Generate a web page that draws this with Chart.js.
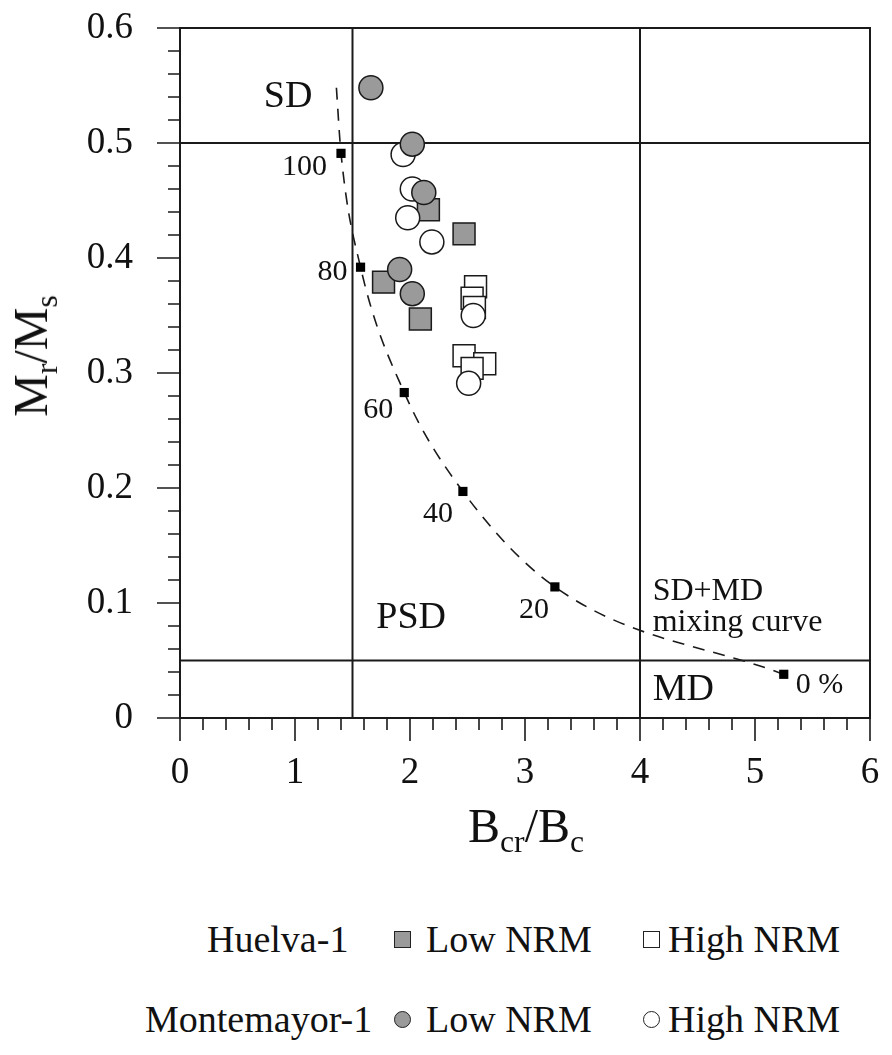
<!DOCTYPE html>
<html>
<head>
<meta charset="utf-8">
<title>Day plot</title>
<script src="https://cdn.jsdelivr.net/npm/chart.js@4.4.1/dist/chart.umd.min.js"></script>
<style>
  html, body { margin: 0; padding: 0; background: #fff; }
  #wrap { position: relative; width: 892px; height: 1055px; font-family: "Liberation Serif", "Times New Roman", serif; color: #111; }
  #chart { position: absolute; left: 0; top: 0; }
  .title { position: absolute; font-size: 48px; line-height: 1; white-space: nowrap; }
  .title sub { font-size: 0.66em; vertical-align: -0.3em; line-height: 0; }
  .leg { position: absolute; font-size: 38px; line-height: 1; white-space: nowrap; }
  .mark { position: absolute; width: 17px; height: 17px; box-sizing: border-box; border: 1.5px solid #222; }
</style>
</head>
<body>
<div id="wrap">
  <canvas id="chart" width="892" height="880"></canvas>
  <div class="title" id="ytitle" style="left:31px; top:356px; transform: translate(-50%,-50%) rotate(-90deg);">M<sub>r</sub>/M<sub>s</sub></div>
  <div class="title" id="xtitle" style="left:468px; top:802px;">B<sub>cr</sub>/B<sub>c</sub></div>
  <div id="legend"></div>
</div>
<script>
// Huelva-1, Low NRM (gray squares)
const huelvaLowX = [2.16, 2.47, 1.77, 2.09];
const huelvaLowY = [0.442, 0.421, 0.379, 0.347];
// Huelva-1, High NRM (white squares)
const huelvaHighX = [2.57, 2.54, 2.56, 2.47, 2.65, 2.54];
const huelvaHighY = [0.375, 0.365, 0.357, 0.315, 0.308, 0.304];
// Montemayor-1, Low NRM (gray circles)
const montLowX = [1.66, 2.02, 2.12, 1.91, 2.02];
const montLowY = [0.548, 0.499, 0.457, 0.390, 0.369];
// Montemayor-1, High NRM (white circles)
const montHighX = [1.94, 2.02, 1.98, 2.19, 2.55, 2.51];
const montHighY = [0.490, 0.460, 0.435, 0.414, 0.350, 0.291];

// SD+MD mixing curve
const mixX = [1.40, 1.57, 1.95, 2.46, 3.26, 5.25];
const mixY = [0.491, 0.392, 0.283, 0.197, 0.114, 0.038];
const mixLabels = ['100', '80', '60', '40', '20', '0 %'];
const curveStart = { x: 1.36, y: 0.548 };

// domain boundaries
const boundaryX = [1.5, 4];
const boundaryY = [0.05, 0.5];

const regionLabels = ['SD', 'PSD', 'MD', 'SD+MD', 'mixing curve'];
const regionX = [0.94, 2.01, 4.11, 4.11, 4.11];
const regionY = [0.531, 0.078, 0.016, 0.103, 0.076];

const xTicks = [0, 1, 2, 3, 4, 5, 6];
const yTicks = [0, 0.1, 0.2, 0.3, 0.4, 0.5, 0.6];

const legendSites = ['Huelva-1', 'Montemayor-1'];
const legendSeries = ['Low NRM', 'High NRM'];

const serif = '"Liberation Serif", "Times New Roman", serif';
const ink = '#1a1a1a';
const gray = '#9a9a9a';

function pts(xs, ys) {
    return xs.map((v, i) => ({ x: v, y: ys[i] }));
}

// label placement around the mixing-curve squares (pixels)
const mixLabelStyle = [
    { dx: -14, dy: 22, align: 'right' },
    { dx: -13, dy: 13, align: 'right' },
    { dx: -11, dy: 25, align: 'right' },
    { dx: -10, dy: 31, align: 'right' },
    { dx: -6, dy: 31, align: 'right' },
    { dx: 12, dy: 19, align: 'left' },
];

// frame, boundaries and ticks under the markers
const framePlugin = {
    id: 'frame',
    beforeDatasetsDraw(chart) {
        const { ctx, chartArea: a, scales: { x, y } } = chart;
        ctx.save();
        ctx.strokeStyle = ink;
        ctx.lineWidth = 2;
        ctx.strokeRect(a.left, a.top, a.right - a.left, a.bottom - a.top);
        ctx.beginPath();
        boundaryX.forEach(v => {
            const px = x.getPixelForValue(v);
            ctx.moveTo(px, a.top);
            ctx.lineTo(px, a.bottom);
        });
        boundaryY.forEach(v => {
            const py = y.getPixelForValue(v);
            ctx.moveTo(a.left, py);
            ctx.lineTo(a.right, py);
        });
        ctx.stroke();

        ctx.lineWidth = 1.6;
        ctx.beginPath();
        for (let i = 0; i <= 30; i++) {
            const len = i % 5 === 0 ? 23 : 12;
            const px = x.getPixelForValue(i * 0.2);
            ctx.moveTo(px, a.bottom);
            ctx.lineTo(px, a.bottom + len);
            const py = y.getPixelForValue(i * 0.02);
            ctx.moveTo(a.left, py);
            ctx.lineTo(a.left - len, py);
        }
        ctx.stroke();

        // region names
        ctx.fillStyle = '#111';
        ctx.textBaseline = 'alphabetic';
        regionLabels.forEach((t, i) => {
            ctx.font = (i < 3 ? 38 : 32) + 'px ' + serif;
            ctx.textAlign = i === 1 || i === 0 ? 'center' : 'left';
            ctx.fillText(t, x.getPixelForValue(regionX[i]), y.getPixelForValue(regionY[i]));
        });

        // mixing percentages
        ctx.font = '30px ' + serif;
        mixLabels.forEach((t, i) => {
            const s = mixLabelStyle[i];
            ctx.textAlign = s.align;
            ctx.fillText(t, x.getPixelForValue(mixX[i]) + s.dx, y.getPixelForValue(mixY[i]) + s.dy);
        });
        ctx.restore();
    }
};

const ctx = document.getElementById('chart').getContext('2d');
new Chart(ctx, {
    type: 'scatter',
    data: {
        datasets: [
            {
                label: 'Montemayor-1 Low NRM',
                data: pts(montLowX, montLowY),
                pointStyle: 'circle', pointRadius: 12, pointHoverRadius: 12,
                backgroundColor: gray, borderColor: ink, borderWidth: 1.5,
                order: 0,
            },
            {
                label: 'Montemayor-1 High NRM',
                data: pts(montHighX, montHighY),
                pointStyle: 'circle', pointRadius: 12, pointHoverRadius: 12,
                backgroundColor: '#fff', borderColor: ink, borderWidth: 1.5,
                order: 1,
            },
            {
                label: 'Huelva-1 Low NRM',
                data: pts(huelvaLowX, huelvaLowY),
                pointStyle: 'rect', pointRadius: 15.5, pointHoverRadius: 15.5,
                backgroundColor: gray, borderColor: ink, borderWidth: 1.5,
                order: 2,
            },
            {
                label: 'Huelva-1 High NRM',
                data: pts(huelvaHighX, huelvaHighY),
                pointStyle: 'rect', pointRadius: 15.5, pointHoverRadius: 15.5,
                backgroundColor: '#fff', borderColor: ink, borderWidth: 1.5,
                order: 3,
            },
            {
                label: 'mixing points',
                data: pts(mixX, mixY),
                pointStyle: 'rect', pointRadius: 6.5, pointHoverRadius: 6.5,
                backgroundColor: '#000', borderColor: '#000', borderWidth: 0,
                order: 4,
            },
            {
                label: 'SD+MD mixing curve',
                data: [curveStart].concat(pts(mixX, mixY)),
                showLine: true, pointRadius: 0, pointHoverRadius: 0,
                borderColor: ink, borderWidth: 1.6, borderDash: [12, 9],
                tension: 0.4, cubicInterpolationMode: 'monotone', fill: false,
                order: 5,
            },
        ],
    },
    options: {
        responsive: false,
        animation: false,
        events: [],
        layout: { padding: { left: 0, top: 28, right: 22, bottom: 0 }, autoPadding: false },
        plugins: {
            legend: { display: false },
            tooltip: { enabled: false },
        },
        scales: {
            x: {
                type: 'linear', min: 0, max: 6,
                grid: { display: false, drawTicks: false },
                border: { display: false },
                afterBuildTicks(s) { s.ticks = xTicks.map(v => ({ value: v })); },
                afterFit(s) {
                    s.height = 880 - 718;
                    s.paddingLeft = 0;
                    s.paddingRight = 0;
                },
                ticks: { color: '#111', font: { family: serif, size: 37 }, padding: 33, callback: v => String(v) },
            },
            y: {
                type: 'linear', min: 0, max: 0.6,
                grid: { display: false, drawTicks: false },
                border: { display: false },
                afterBuildTicks(s) { s.ticks = yTicks.map(v => ({ value: v })); },
                afterFit(s) {
                    s.width = 180;
                    s.paddingTop = 0;
                    s.paddingBottom = 0;
                },
                ticks: { color: '#111', font: { family: serif, size: 37 }, padding: 47, callback: v => (v === 0 ? '0' : v.toFixed(1)) },
            },
        },
    },
    plugins: [framePlugin],
});

// legend below the plot
const legend = document.getElementById('legend');
const rowTop = [920, 1000];
const siteLeft = [207, 145];
legendSites.forEach((site, r) => {
    const name = document.createElement('div');
    name.className = 'leg';
    name.style.left = siteLeft[r] + 'px';
    name.style.top = rowTop[r] + 'px';
    name.textContent = site;
    legend.appendChild(name);
    legendSeries.forEach((series, c) => {
        const m = document.createElement('div');
        m.className = 'mark';
        m.style.left = (c === 0 ? 394 : 643) + 'px';
        m.style.top = (rowTop[r] + 10.5) + 'px';
        m.style.background = c === 0 ? gray : '#fff';
        if (r === 1) m.style.borderRadius = '50%';
        legend.appendChild(m);
        const t = document.createElement('div');
        t.className = 'leg';
        t.style.left = (c === 0 ? 426 : 668) + 'px';
        t.style.top = rowTop[r] + 'px';
        t.textContent = series;
        legend.appendChild(t);
    });
});
</script>
</body>
</html>
